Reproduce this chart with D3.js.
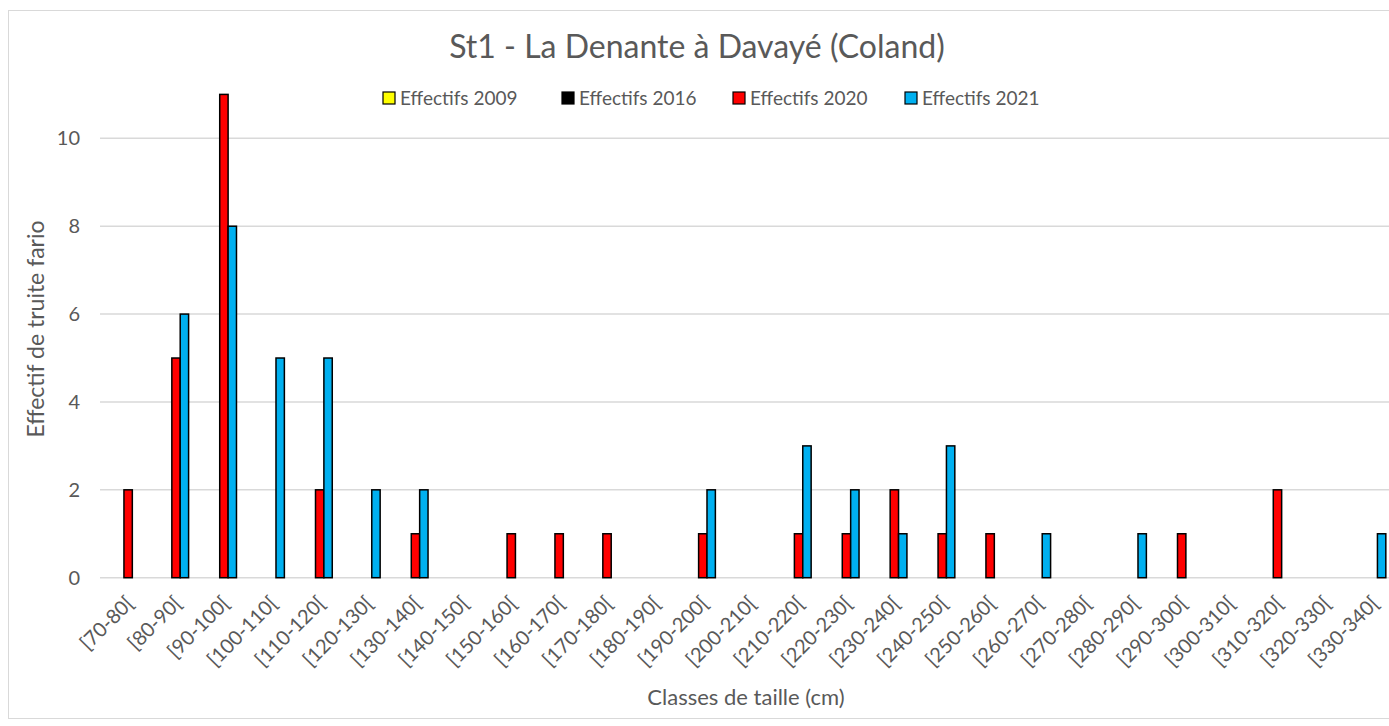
<!DOCTYPE html>
<html>
<head>
<meta charset="utf-8">
<script src="https://cdn.jsdelivr.net/npm/d3@7"></script>
<style>
  html, body { margin: 0; padding: 0; background: #fff; }
  svg { display: block; font-family: Lato, 'Open Sans', sans-serif; }
</style>
</head>
<body>
<div id="chart"></div>
<script>
// Size classes and counts per sampling year
const classes = [
  '[70-80[', '[80-90[', '[90-100[', '[100-110[', '[110-120[', '[120-130[', '[130-140[',
  '[140-150[', '[150-160[', '[160-170[', '[170-180[', '[180-190[', '[190-200[', '[200-210[',
  '[210-220[', '[220-230[', '[230-240[', '[240-250[', '[250-260[', '[260-270[', '[270-280[',
  '[280-290[', '[290-300[', '[300-310[', '[310-320[', '[320-330[', '[330-340['
];
const eff2009 = [0, 0, 0, 0, 0, 0, 0, 0, 0, 0, 0, 0, 0, 0, 0, 0, 0, 0, 0, 0, 0, 0, 0, 0, 0, 0, 0];
const eff2016 = [0, 0, 0, 0, 0, 0, 0, 0, 0, 0, 0, 0, 0, 0, 0, 0, 0, 0, 0, 0, 0, 0, 0, 0, 0, 0, 0];
const eff2020 = [2, 5, 11, 0, 2, 0, 1, 0, 1, 1, 1, 0, 1, 0, 1, 1, 2, 1, 1, 0, 0, 0, 1, 0, 2, 0, 0];
const eff2021 = [0, 6, 8, 5, 5, 2, 2, 0, 0, 0, 0, 0, 2, 0, 3, 2, 1, 3, 0, 1, 0, 1, 0, 0, 0, 0, 1];
const seriesNames = ['Effectifs 2009', 'Effectifs 2016', 'Effectifs 2020', 'Effectifs 2021'];
const seriesColors = ['#ffff00', '#000000', '#ff0000', '#00b0f0'];
const yTicks = [0, 2, 4, 6, 8, 10];

const W = 1389, H = 726;
const margin = { left: 100, right: -4, top: 94.4, bottom: 148.3 };
const textColor = '#595959';

const svg = d3.select('#chart').append('svg').attr('width', W).attr('height', H);

// chart frame
svg.append('rect')
  .attr('x', 8.5).attr('y', 10.5)
  .attr('width', W).attr('height', 708)
  .attr('fill', '#fff').attr('stroke', '#d9d9d9');

const series = [eff2009, eff2016, eff2020, eff2021];

const x0 = d3.scaleBand()
  .domain(classes)
  .range([margin.left, W - margin.right])
  .paddingInner(0.3)
  .paddingOuter(0.15);

const x1 = d3.scaleBand()
  .domain(d3.range(series.length))
  .range([0, x0.bandwidth()]);

const y = d3.scaleLinear()
  .domain([0, 11])
  .range([H - margin.bottom, margin.top]);

// gridlines
svg.append('g')
  .selectAll('line')
  .data(yTicks)
  .join('line')
  .attr('x1', margin.left)
  .attr('x2', W)
  .attr('y1', (d) => y(d))
  .attr('y2', (d) => y(d))
  .attr('stroke', '#d9d9d9')
  .attr('stroke-width', 1.5);

// y tick labels
svg.append('g')
  .selectAll('text')
  .data(yTicks)
  .join('text')
  .attr('x', 80)
  .attr('y', (d) => y(d))
  .attr('dy', '0.35em')
  .attr('text-anchor', 'end')
  .attr('fill', textColor)
  .attr('font-size', 20)
  .text((d) => d);

// bars (zero counts are not drawn)
const bars = [];
series.forEach((vals, s) => {
  vals.forEach((v, i) => {
    if (v > 0) bars.push({ s, cat: classes[i], v });
  });
});

svg.append('g')
  .selectAll('rect')
  .data(bars)
  .join('rect')
  .attr('x', (d) => x0(d.cat) + x1(d.s))
  .attr('y', (d) => y(d.v))
  .attr('width', x1.bandwidth())
  .attr('height', (d) => y(0) - y(d.v))
  .attr('fill', (d) => seriesColors[d.s])
  .attr('stroke', '#000')
  .attr('stroke-width', 1.5);

// x tick labels
svg.append('g')
  .selectAll('text')
  .data(classes)
  .join('text')
  .attr('transform', (d) => `translate(${x0(d) + x0.bandwidth() / 2 + 6},${y(0) + 22}) rotate(-45)`)
  .attr('text-anchor', 'end')
  .attr('dy', '0.35em')
  .attr('fill', textColor)
  .attr('font-size', 20)
  .text((d) => d);

// title
svg.append('text')
  .attr('x', 697)
  .attr('y', 58)
  .attr('text-anchor', 'middle')
  .attr('fill', textColor)
  .attr('font-size', 32)
  .text('St1 - La Denante à Davayé (Coland)');

// axis titles
svg.append('text')
  .attr('transform', 'translate(44,329) rotate(-90)')
  .attr('text-anchor', 'middle')
  .attr('fill', textColor)
  .attr('font-size', 23)
  .text('Effectif de truite fario');

svg.append('text')
  .attr('x', 746)
  .attr('y', 705)
  .attr('text-anchor', 'middle')
  .attr('fill', textColor)
  .attr('font-size', 22)
  .text('Classes de taille (cm)');

// legend
const legendX = [383, 562, 733, 905];
const legend = svg.append('g')
  .selectAll('g')
  .data(seriesNames)
  .join('g')
  .attr('transform', (d, i) => `translate(${legendX[i]},98)`);

legend.append('rect')
  .attr('x', 0).attr('y', -6)
  .attr('width', 12).attr('height', 12)
  .attr('fill', (d, i) => seriesColors[i])
  .attr('stroke', '#000')
  .attr('stroke-width', 1.2);

legend.append('text')
  .attr('x', 17)
  .attr('dy', '0.35em')
  .attr('fill', textColor)
  .attr('font-size', 19)
  .text((d) => d);
</script>
</body>
</html>
